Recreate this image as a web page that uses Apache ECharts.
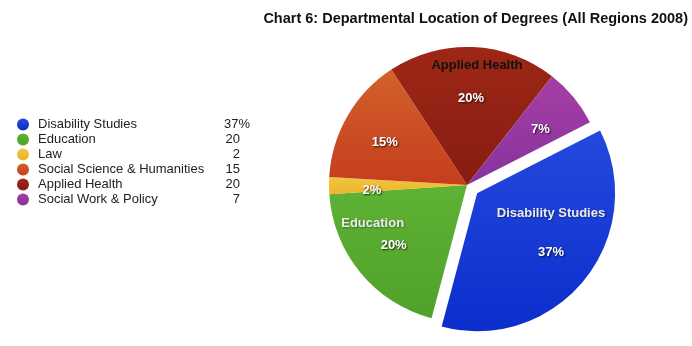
<!DOCTYPE html>
<html>
<head>
<meta charset="utf-8">
<script src="https://cdn.jsdelivr.net/npm/echarts@6/dist/echarts.min.js"></script>
<style>
  html, body { margin: 0; padding: 0; background: #fff; }
  #chart { width: 692px; height: 346px; }
</style>
</head>
<body>
<div id="chart"></div>
<script>
// Departmental location of degrees, share of programmes (%)
const categories = [
  'Disability Studies',
  'Education',
  'Law',
  'Social Science & Humanities',
  'Applied Health',
  'Social Work & Policy'
];
const shares = [37, 20, 2, 15, 20, 7];

// light / dark stops for each slice's vertical shading
const palette = [
  ['#2549dd', '#0b2ecc'],
  ['#5eb234', '#50a12a'],
  ['#f3c540', '#eab52c'],
  ['#d2622b', '#c53d1d'],
  ['#9e2716', '#871c11'],
  ['#a63ea2', '#8732a0']
];

const FONT = '"Liberation Sans", Arial, Helvetica, sans-serif';

function shade(pair) {
  return new echarts.graphic.LinearGradient(0, 0, 0, 1, [
    { offset: 0, color: pair[0] },
    { offset: 1, color: pair[1] }
  ]);
}

const pctStyle = {
  fontFamily: FONT, fontSize: 13, fontWeight: 'bold', color: '#fff',
  textShadowColor: 'rgba(0,0,0,0.75)', textShadowBlur: 2,
  textShadowOffsetX: 1, textShadowOffsetY: 1
};
const nameWhite = Object.assign({}, pctStyle, {
  color: '#ececec', textShadowColor: 'rgba(0,0,0,0.35)'
});
const nameBlack = {
  fontFamily: FONT, fontSize: 13, fontWeight: 'bold', color: '#111'
};

// label text for each slice: percentage, with the department name on the big slices
function sliceLabel(i) {
  const pct = shares[i] + '%';
  if (i === 0) return '{nw0|' + categories[i] + '}\n{p|' + pct + '}\n{e0| }';
  if (i === 1) return '{nw1|' + categories[i] + '}\n{p|' + pct + '}\n{e1| }';
  if (i === 4) return '{nb|' + categories[i] + '}\n{p|' + pct + '}\n{e4| }';
  return '{pp|' + pct + '}';
}

const center = [467, 185];
const exploded = 'Disability Studies';

const sliceData = categories.map((name, i) => ({
  name: name,
  value: shares[i],
  selected: name === exploded,
  itemStyle: { color: shade(palette[i]) }
}));

const labelData = categories.map((name, i) => ({
  name: name,
  value: shares[i],
  selected: name === exploded,
  itemStyle: { color: 'rgba(0,0,0,0)' },
  label: { formatter: sliceLabel(i) }
}));

const richLabels = {
  p: pctStyle,
  pp: Object.assign({}, pctStyle, { padding: [10, 0, 0, 0] }),
  nw0: Object.assign({}, nameWhite, { padding: [0, 0, 26, 0] }),
  e0: { fontSize: 13, lineHeight: 39 },
  nw1: Object.assign({}, nameWhite, { padding: [0, 42, 9, 0] }),
  e1: { fontSize: 13, lineHeight: 22 },
  nb: Object.assign({}, nameBlack, { padding: [16, 0, 20, 12] }),
  e4: { fontSize: 13, lineHeight: 33 }
};

const chart = echarts.init(document.getElementById('chart'), null, { renderer: 'canvas' });

chart.setOption({
  backgroundColor: '#fff',
  animation: false,
  title: {
    text: 'Chart 6: Departmental Location of Degrees (All Regions 2008)',
    right: 4,
    top: 11,
    padding: 0,
    textStyle: { fontFamily: FONT, fontSize: 14.5, fontWeight: 'bold', color: '#111' }
  },
  legend: {
    orient: 'vertical',
    left: 17,
    top: 118,
    padding: 0,
    itemWidth: 12,
    itemHeight: 12,
    itemGap: 2,
    icon: 'circle',
    selectedMode: false,
    data: categories,
    formatter: function (name) {
      const i = categories.indexOf(name);
      const v = i === 0 ? '{v0|' + shares[i] + '%}' : '{v|' + shares[i] + '}';
      return '{n|' + name + '}' + v;
    },
    textStyle: {
      fontFamily: FONT,
      fontSize: 13,
      color: '#222',
      rich: {
        n: { fontFamily: FONT, fontSize: 13, color: '#222', width: 172, lineHeight: 15, padding: [0, 0, 0, 4] },
        v: { fontFamily: FONT, fontSize: 13, color: '#222', width: 30, align: 'right', lineHeight: 15 },
        v0: { fontFamily: FONT, fontSize: 13, color: '#222', width: 30, align: 'left', lineHeight: 15, padding: [0, 0, 0, 14] }
      }
    }
  },
  series: [
    {
      // the slices
      type: 'pie',
      center: center,
      radius: [0, 138],
      startAngle: 27,
      clockwise: true,
      selectedMode: 'single',
      selectedOffset: 13,
      avoidLabelOverlap: false,
      label: { show: false },
      labelLine: { show: false },
      emphasis: { disabled: true },
      select: { itemStyle: { borderWidth: 0 } },
      data: sliceData
    },
    {
      // transparent twin that only carries the labels further out from the centre
      type: 'pie',
      silent: true,
      center: center,
      radius: [0, 184],
      startAngle: 27,
      clockwise: true,
      selectedMode: 'single',
      selectedOffset: 13,
      avoidLabelOverlap: false,
      label: {
        show: true,
        position: 'inside',
        rich: richLabels
      },
      labelLine: { show: false },
      emphasis: { disabled: true },
      select: { itemStyle: { borderWidth: 0 } },
      data: labelData
    }
  ]
});
</script>
</body>
</html>
